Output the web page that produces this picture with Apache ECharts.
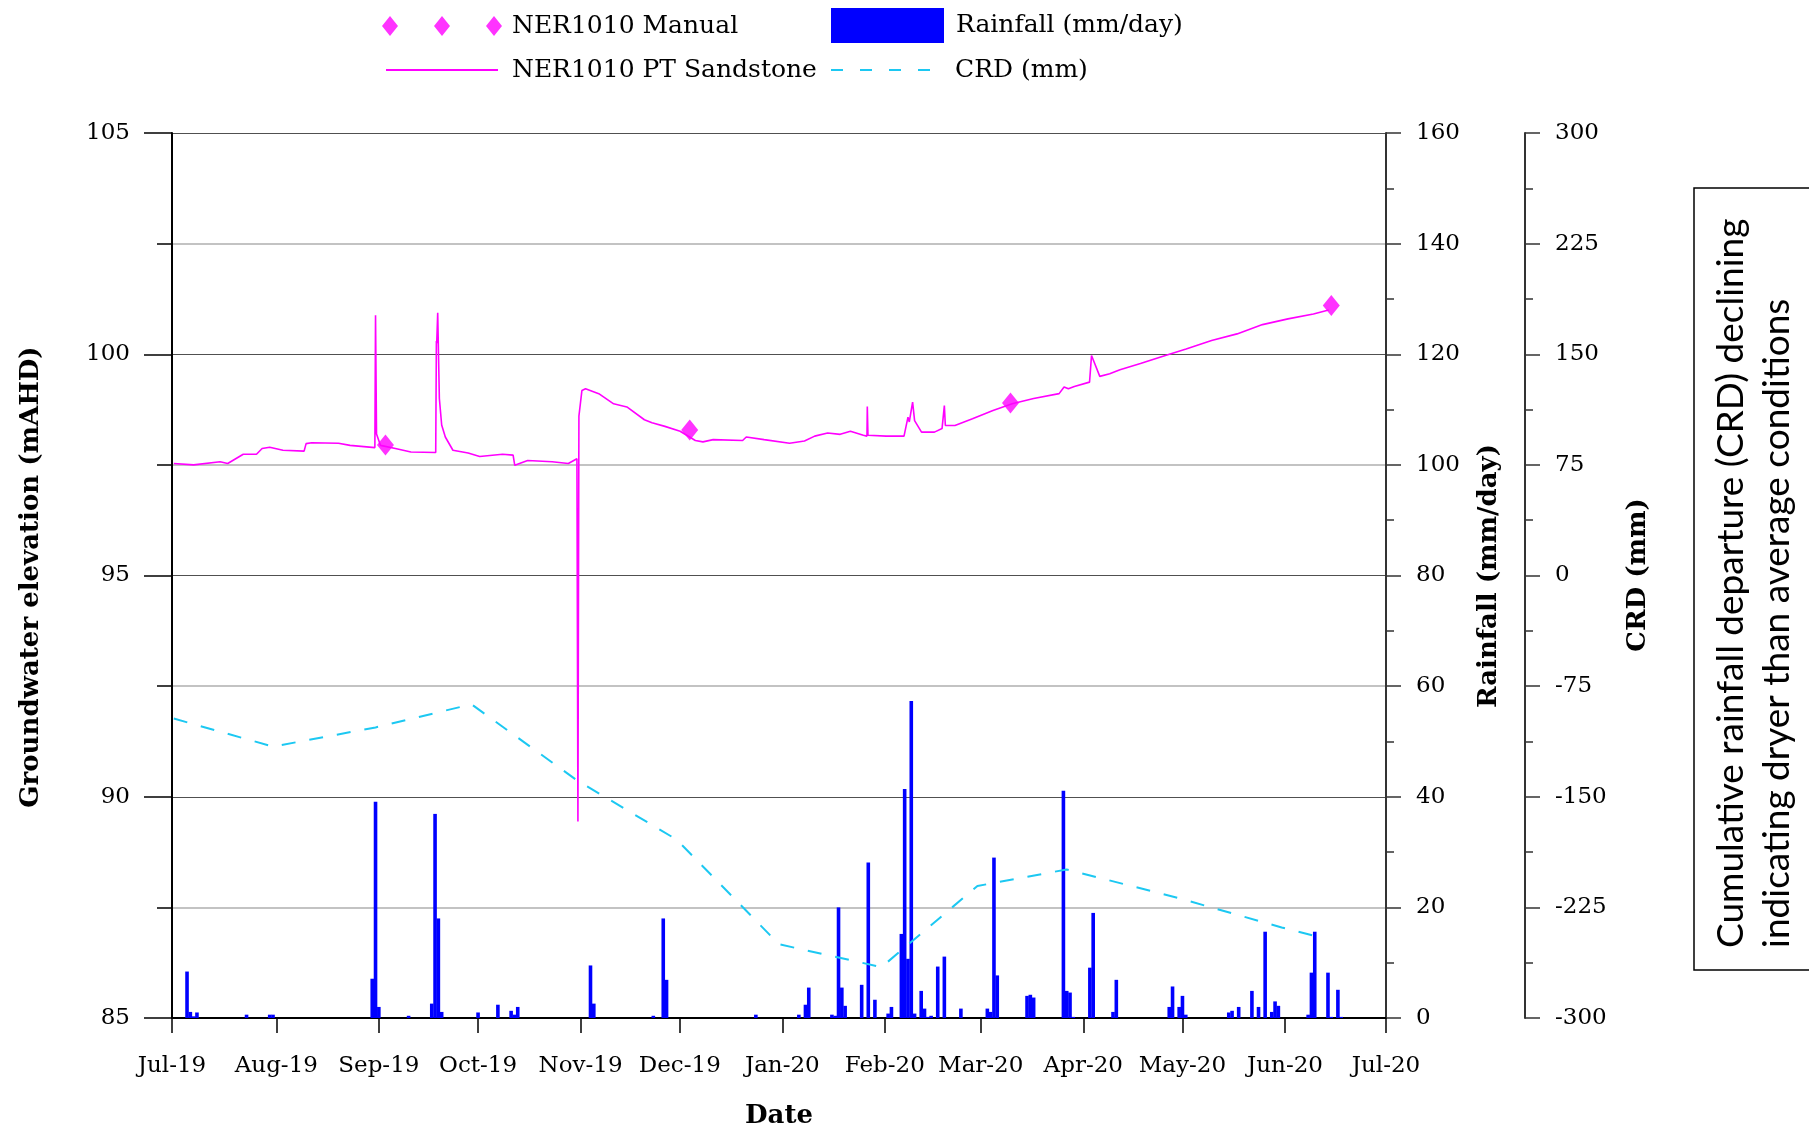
<!DOCTYPE html>
<html><head><meta charset="utf-8">
<script src="https://cdn.jsdelivr.net/npm/echarts@6/dist/echarts.min.js"></script>
<style>html,body{margin:0;padding:0;background:#fff}#c{width:1809px;height:1131px}</style>
</head><body><div id="c"></div>
<script>
// ---------------- data ----------------
const startDate = '2019-07-01';
const endDate = '2020-07-01';
const monthNames = ['Jan','Feb','Mar','Apr','May','Jun','Jul','Aug','Sep','Oct','Nov','Dec'];

// NER1010 PT Sandstone logger: days since 1 Jul 2019 and groundwater elevation (mAHD)
const ptDays = [0,6,14,16.3,21,25,26.7,29,33,39.4,40,41.7,49.8,53.3,60.8,61.0,61.3,62.5,67,71.7,
  79.2,79.4,79.5,79.8,80.3,81,82.1,84.4,89,92.5,99.4,102.6,103.1,107,114.4,119.3,121.9,122.2,122.5,123.4,
  124.5,128.5,133,137,142.3,144.6,148.5,153.1,157.7,160,163.1,172,173.1,178.5,186.2,190.7,193.8,197.7,201.5,204.6,
  208.5,209.6,209.7,209.9,215.4,220.8,222,222.4,223.4,224,226.1,230,232.3,233.0,233.3,236.2,241.5,247.7,253.5,260,
  267.7,269.2,270.5,272.3,276.9,277.5,278,280,283,286.1,292.3,298.4,306.1,313.8,321.5,329.2,336.9,344.6,349.2];
const ptLevel = [97.53,97.50,97.57,97.53,97.74,97.74,97.87,97.90,97.83,97.81,97.98,98.00,97.99,97.94,97.89,100.88,98.20,97.94,97.87,97.79,
  97.78,100.30,100.25,100.94,99.00,98.40,98.13,97.83,97.77,97.69,97.74,97.72,97.49,97.60,97.57,97.53,97.64,89.44,98.60,99.18,
  99.22,99.11,98.88,98.81,98.52,98.45,98.37,98.26,98.05,98.02,98.07,98.05,98.13,98.07,97.99,98.04,98.15,98.22,98.19,98.26,
  98.17,98.15,98.82,98.17,98.15,98.15,98.58,98.47,98.92,98.50,98.24,98.24,98.32,98.84,98.39,98.39,98.54,98.73,98.88,99.00,
  99.11,99.26,99.22,99.27,99.37,99.97,99.97,99.50,99.56,99.65,99.79,99.94,100.12,100.31,100.46,100.67,100.80,100.91,101.00];

// NER1010 manual measurements
const manualDates = ['2019-09-03','2019-12-04','2020-03-10','2020-06-15'];
const manualLevel = [97.95, 98.29, 98.90, 101.10];

// Daily rainfall (mm/day)
const rainDates = ['2019-07-05','2019-07-06','2019-07-07','2019-07-08','2019-07-23','2019-07-30','2019-07-31',
  '2019-08-30','2019-08-31','2019-09-01','2019-09-10','2019-09-17','2019-09-18','2019-09-19','2019-09-20',
  '2019-10-01','2019-10-07','2019-10-11','2019-10-12','2019-10-13','2019-11-04','2019-11-05','2019-11-23','2019-11-26','2019-11-27',
  '2019-12-24','2020-01-06','2020-01-08','2020-01-09','2020-01-16','2020-01-17','2020-01-18','2020-01-19','2020-01-20',
  '2020-01-25','2020-01-27','2020-01-29','2020-02-02','2020-02-03','2020-02-06','2020-02-07','2020-02-08','2020-02-09','2020-02-10',
  '2020-02-12','2020-02-13','2020-02-14','2020-02-15','2020-02-17','2020-02-19','2020-02-24','2020-03-03','2020-03-04','2020-03-05',
  '2020-03-06','2020-03-15','2020-03-16','2020-03-17','2020-03-26','2020-03-27','2020-03-28','2020-03-29','2020-04-03','2020-04-04',
  '2020-04-10','2020-04-11','2020-04-27','2020-04-28','2020-04-30','2020-05-01','2020-05-02','2020-05-15','2020-05-16','2020-05-18',
  '2020-05-22','2020-05-24','2020-05-26','2020-05-28','2020-05-29','2020-05-30','2020-06-08','2020-06-09','2020-06-10','2020-06-14',
  '2020-06-15','2020-06-17','2020-06-18'];
const rainMm = [8.4,1.1,0.3,1.0,0.6,0.6,0.6,
  7.1,39.1,2.0,0.4,2.6,36.9,18.0,1.1,
  1.0,2.4,1.3,0.6,2.0,9.5,2.6,0.4,18.0,6.9,
  0.6,0.6,2.4,5.5,0.6,0.4,20.0,5.5,2.2,
  6.0,28.1,3.3,0.8,2.0,15.2,41.4,10.7,57.3,0.8,
  4.9,1.7,0.2,0.4,9.3,11.1,1.7,1.7,1.1,29.0,
  7.7,4.0,4.2,3.7,41.1,4.9,4.6,0.2,9.1,19.0,
  1.1,6.9,2.0,5.7,2.0,4.0,0.6,1.0,1.3,2.0,
  4.9,2.0,15.6,1.1,3.0,2.2,0.6,8.2,15.6,8.2,
  0.2,5.1,0.2];

// Cumulative rainfall departure (mm)
const crdDates = ['2019-07-01','2019-07-31','2019-08-31','2019-09-29','2019-10-31','2019-11-30','2019-12-31',
  '2020-01-31','2020-02-29','2020-03-27','2020-04-30','2020-05-31','2020-06-10'];
const crdMm = [-97,-116,-103,-87.3,-139,-179,-250,-265.5,-210.5,-199.3,-218.8,-238.6,-244.3];

// ---------------- helpers ----------------
function ts(s){ const p = s.split('-').map(Number); return new Date(p[0], p[1]-1, p[2]).getTime(); }
const t0 = ts(startDate);
const DAY = 86400000;

const ptData = ptDays.map((d,i)=>[t0 + d*DAY, ptLevel[i]]);
const manualData = manualDates.map((d,i)=>[ts(d), manualLevel[i]]);
const rainData = rainDates.map((d,i)=>[ts(d), rainMm[i]]);
const crdData = crdDates.map((d,i)=>[ts(d), crdMm[i]]);

const SERIF = '"DejaVu Serif", serif';
const tickFont = {fontFamily: SERIF, fontSize: 23, color: '#000'};
function legendText(padLeft){ return {fontFamily: SERIF, fontSize: 25, color: '#000', lineHeight: 30, padding: [0,0,0,padLeft]}; }

const chart = echarts.init(document.getElementById('c'), null, {renderer:'canvas'});
const option = {
  animation: false,
  backgroundColor: '#fff',
  grid: {left: 172, top: 133, width: 1214, height: 885, containLabel: false},
  legend: [
    {left: 382, top: 11, padding: 0, itemWidth: 120, itemHeight: 20, selectedMode: false,
     textStyle: legendText(5),
     data: [{name:'NER1010 Manual', icon:'path://M8,0L16,10L8,20L0,10Z M60,0L68,10L60,20L52,10Z M112,0L120,10L112,20L104,10Z'}]},
    {left: 831, top: 8, padding: 0, itemWidth: 113, itemHeight: 35, selectedMode: false,
     textStyle: legendText(7),
     data: [{name:'Rainfall (mm/day)', icon:'rect'}]},
    {left: 386, top: 55, padding: 0, itemWidth: 112, itemHeight: 2, selectedMode: false,
     textStyle: legendText(9),
     data: [{name:'NER1010 PT Sandstone', icon:'path://M0,0L112,0L112,2L0,2Z'}]},
    {left: 831, top: 55, padding: 0, itemWidth: 99, itemHeight: 2, selectedMode: false,
     textStyle: legendText(20),
     data: [{name:'CRD (mm)', icon:'path://M0,0h12v2h-12Z M29,0h12v2h-12Z M58,0h12v2h-12Z M87,0h12v2h-12Z'}]}
  ],
  xAxis: {
    type: 'time', min: ts(startDate), max: ts(endDate),
    splitNumber: 12, minInterval: 28*DAY, maxInterval: 31*DAY,
    axisLine: {show: true, lineStyle: {color: '#000', width: 2}},
    axisTick: {show: true, length: 15, lineStyle: {color: '#000', width: 1.5}},
    splitLine: {show: false},
    axisLabel: Object.assign({margin: 37, showMinLabel: true, showMaxLabel: true, hideOverlap: false,
      formatter: function(v){ const d = new Date(v + 15*DAY); return monthNames[d.getMonth()] + '-' + String(d.getFullYear()).slice(2); }}, tickFont)
  },
  yAxis: [
    {type: 'value', position: 'left', min: 85, max: 105, interval: 5,
     axisLine: {show: true, lineStyle: {color: '#000', width: 2}},
     axisTick: {show: true, length: 28, lineStyle: {color: '#000', width: 1.5}},
     minorTick: {show: true, splitNumber: 2, length: 15, lineStyle: {color: '#000', width: 1.5}},
     splitLine: {show: true, lineStyle: {color: '#505050', width: 1.2}},
     minorSplitLine: {show: true, lineStyle: {color: '#b0b0b0', width: 1.5}},
     axisLabel: Object.assign({margin: 42}, tickFont)},
    {type: 'value', position: 'right', offset: 0, min: 0, max: 160, interval: 20,
     axisLine: {show: true, lineStyle: {color: '#333', width: 2}},
     axisTick: {show: true, length: 15, lineStyle: {color: '#333', width: 1.5}},
     minorTick: {show: true, splitNumber: 2, length: 8, lineStyle: {color: '#333', width: 1.5}},
     splitLine: {show: false},
     axisLabel: Object.assign({margin: 30}, tickFont)},
    {type: 'value', position: 'right', offset: 139, min: -300, max: 300, interval: 75,
     axisLine: {show: true, lineStyle: {color: '#333', width: 2}},
     axisTick: {show: true, length: 15, lineStyle: {color: '#333', width: 1.5}},
     minorTick: {show: true, splitNumber: 2, length: 8, lineStyle: {color: '#333', width: 1.5}},
     splitLine: {show: false},
     axisLabel: Object.assign({margin: 30}, tickFont)}
  ],
  series: [
    {name: 'Rainfall (mm/day)', type: 'bar', yAxisIndex: 1, data: rainData, barWidth: 3.6,
     itemStyle: {color: '#0000FF'}, z: 2},
    {name: 'CRD (mm)', type: 'line', yAxisIndex: 2, data: crdData, symbol: 'none',
     lineStyle: {color: '#1CC8F2', width: 2, type: [14, 14]}, itemStyle: {color: '#1CC8F2'}, z: 3},
    {name: 'NER1010 PT Sandstone', type: 'line', yAxisIndex: 0, data: ptData, symbol: 'none',
     lineStyle: {color: '#FF00FF', width: 1.6}, itemStyle: {color: '#FF00FF'}, z: 4},
    {name: 'NER1010 Manual', type: 'scatter', yAxisIndex: 0, data: manualData, symbol: 'diamond',
     symbolSize: [17, 21], itemStyle: {color: '#FF00FF'}, z: 5}
  ],
  graphic: [
    {type: 'text', x: 31, y: 577, rotation: Math.PI/2,
     style: {text: 'Groundwater elevation (mAHD)', fontFamily: SERIF, fontWeight: 'bold', fontSize: 26, fill: '#000', align: 'center', verticalAlign: 'middle'}},
    {type: 'text', x: 1489, y: 576, rotation: Math.PI/2,
     style: {text: 'Rainfall (mm/day)', fontFamily: SERIF, fontWeight: 'bold', fontSize: 26, fill: '#000', align: 'center', verticalAlign: 'middle'}},
    {type: 'text', x: 1638, y: 575, rotation: Math.PI/2,
     style: {text: 'CRD (mm)', fontFamily: SERIF, fontWeight: 'bold', fontSize: 26, fill: '#000', align: 'center', verticalAlign: 'middle'}},
    {type: 'text', x: 779, y: 1116,
     style: {text: 'Date', fontFamily: SERIF, fontWeight: 'bold', fontSize: 26, fill: '#000', align: 'center', verticalAlign: 'middle'}},
    {type: 'rect', shape: {x: 1694, y: 188, width: 200, height: 782},
     style: {fill: '#fff', stroke: '#000', lineWidth: 1.5}},
    {type: 'text', x: 1731, y: 948, rotation: Math.PI/2,
     style: {text: 'Cumulative rainfall departure (CRD) declining', fontFamily: 'Lato, sans-serif', fontSize: 37, fill: '#000', align: 'left', verticalAlign: 'middle'}},
    {type: 'text', x: 1777, y: 948, rotation: Math.PI/2,
     style: {text: 'indicating dryer than average conditions', fontFamily: 'Lato, sans-serif', fontSize: 37, fill: '#000', align: 'left', verticalAlign: 'middle'}}
  ]
};
chart.setOption(option);
</script>
</body></html>
